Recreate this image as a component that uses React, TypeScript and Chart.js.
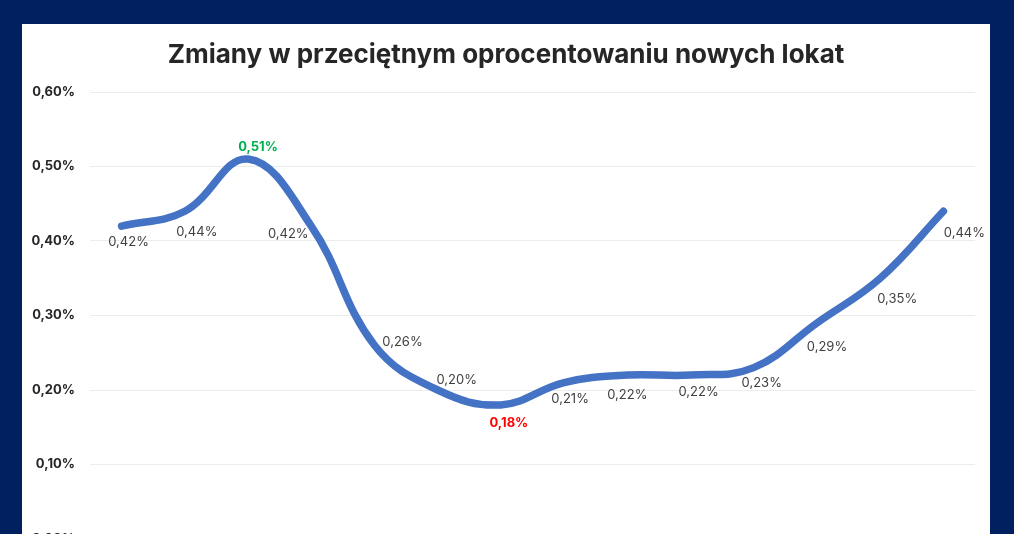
import React, { useEffect, useRef } from "react";
import { Chart, registerables } from "chart.js";

Chart.register(...registerables);

const TITLE = "Zmiany w przeciętnym oprocentowaniu nowych lokat";
const categories = ["IX 22", "X 22", "XI 22", "XII 22", "I 23", "II 23", "III 23", "IV 23", "V 23", "VI 23", "VII 23", "VIII 23", "IX 23", "X 23"];
const rates = [0.42, 0.44, 0.51, 0.42, 0.26, 0.2, 0.18, 0.21, 0.22, 0.22, 0.23, 0.29, 0.35, 0.44];
const yTickValues = [0, 0.1, 0.2, 0.3, 0.4, 0.5, 0.6];
// label offsets relative to each point (style only)
const labelOffsets: [number, number][] = [
  [7, 16], [12, 21], [10, -12], [-23, 8], [28, -3], [19, -10], [8, 18],
  [6, 17], [0, 20], [8, 17], [8, 15], [10, 24], [17, 21], [21, 22],
];

const fmt = (v: number) => v.toFixed(2).replace(".", ",") + "%";
const FONT = "Inter, 'Open Sans', sans-serif";

const maxIdx = rates.indexOf(Math.max(...rates));
const minIdx = rates.indexOf(Math.min(...rates));

const titlePlugin = {
  id: "centeredTitle",
  afterDraw(chart: any) {
    const ctx = chart.ctx;
    ctx.save();
    ctx.font = `bold 26px ${FONT}`;
    ctx.fillStyle = "#262626";
    ctx.textAlign = "center";
    ctx.textBaseline = "middle";
    ctx.fillText(TITLE, chart.width / 2, 31);
    ctx.restore();
  },
};

const labelPlugin = {
  id: "pointLabels",
  afterDatasetsDraw(chart: any) {
    const meta = chart.getDatasetMeta(0);
    const ctx = chart.ctx;
    ctx.save();
    ctx.textAlign = "center";
    ctx.textBaseline = "middle";
    meta.data.forEach((pt: any, i: number) => {
      const isMax = i === maxIdx;
      const isMin = i === minIdx;
      ctx.font = `${isMax || isMin ? 700 : 400} 13px ${FONT}`;
      ctx.fillStyle = isMax ? "#00B050" : isMin ? "#FF0000" : "#404040";
      const [dx, dy] = labelOffsets[i] || [0, 16];
      ctx.fillText(fmt(rates[i]), pt.x + dx, pt.y + dy);
    });
    ctx.restore();
  },
};

export default function App() {
  const ref = useRef<HTMLCanvasElement>(null);
  useEffect(() => {
    if (!ref.current) return;
    const chart = new Chart(ref.current, {
      type: "line",
      data: {
        labels: categories,
        datasets: [
          {
            data: rates,
            borderColor: "#4472C4",
            borderWidth: 7.5,
            pointRadius: 0,
            tension: 0.4,
            borderCapStyle: "round",
            borderJoinStyle: "round",
            fill: false,
          },
        ],
      },
      options: {
        animation: false,
        responsive: false,
        layout: { padding: { left: 0, right: 15, top: 68, bottom: 25 } },
        plugins: {
          legend: { display: false },
          tooltip: { enabled: false },
          title: { display: false },
        },
        scales: {
          x: {
            display: false,
            offset: true,
          },
          y: {
            min: 0,
            max: 0.6,
            afterBuildTicks: (axis: any) => {
              axis.ticks = yTickValues.map((v) => ({ value: v }));
            },
            afterFit: (axis: any) => {
              axis.width = 68;
            },
            border: { display: false },
            grid: { color: "#ececec", lineWidth: 1, drawTicks: false },
            ticks: {
              padding: 15,
              color: "#262626",
              font: { family: FONT, size: 13, weight: "bold" },
              callback: (v: any) => fmt(Number(v)),
            },
          },
        },
      },
      plugins: [labelPlugin, titlePlugin],
    });
    return () => chart.destroy();
  }, []);

  return (
    <div
      style={{
        position: "absolute",
        left: 0,
        top: 0,
        width: 1014,
        height: 534,
        overflow: "hidden",
        background: "#002060",
      }}
    >
      <div
        style={{
          position: "absolute",
          left: 22,
          top: 24,
          width: 968,
          height: 560,
          background: "#ffffff",
        }}
      >
        <canvas ref={ref} width={968} height={540} style={{ width: 968, height: 540, display: "block" }} />
      </div>
    </div>
  );
}
